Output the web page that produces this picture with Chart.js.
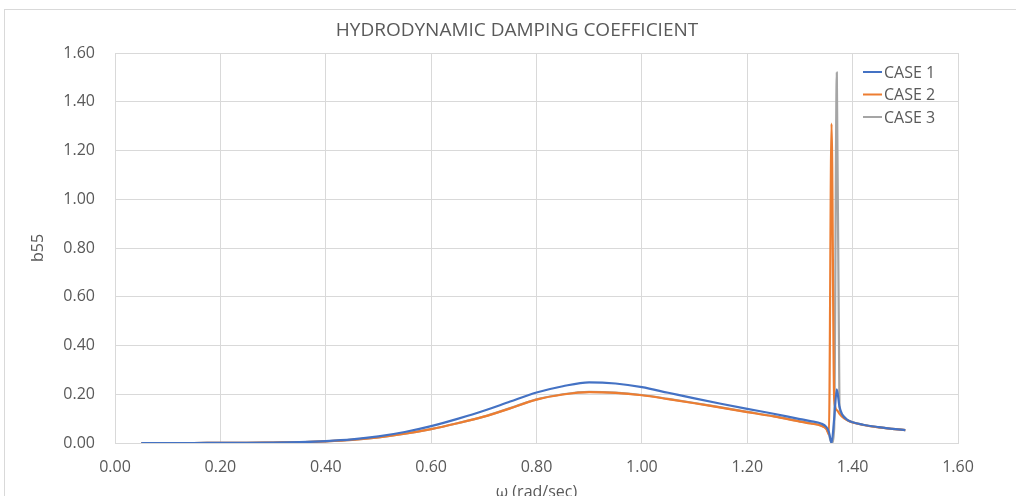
<!DOCTYPE html>
<html>
<head>
<meta charset="utf-8">
<title>Hydrodynamic Damping Coefficient</title>
<script src="https://cdn.jsdelivr.net/npm/chart.js@4/dist/chart.umd.min.js"></script>
<style>
  html, body { margin: 0; padding: 0; background: #ffffff; }
  canvas { display: block; }
</style>
</head>
<body>
<canvas id="chart" width="1016" height="496"></canvas>
<script>
// Wave frequency (rad/sec) at which b55 was evaluated
const omega = [
  0.05, 0.10, 0.15, 0.20, 0.25, 0.30, 0.35, 0.40, 0.45, 0.50,
  0.55, 0.60, 0.65, 0.70, 0.75, 0.80, 0.85, 0.90, 0.95, 1.00,
  1.05, 1.10, 1.15, 1.20, 1.25, 1.30, 1.32, 1.34, 1.35, 1.355,
  1.36, 1.365, 1.37, 1.375, 1.38, 1.39, 1.40, 1.42, 1.45, 1.475, 1.50
];

// Pitch damping coefficient b55 for each case
const case1 = [
  0.000, 0.000, 0.000, 0.001, 0.001, 0.002, 0.004, 0.008, 0.015, 0.027,
  0.045, 0.069, 0.099, 0.132, 0.170, 0.207, 0.233, 0.249, 0.244, 0.229,
  0.206, 0.183, 0.161, 0.140, 0.120, 0.098, 0.090, 0.080, 0.066, 0.045,
  0.000, 0.100, 0.220, 0.150, 0.118, 0.095, 0.085, 0.075, 0.065, 0.058, 0.053
];
const case2 = [
  0.000, 0.000, 0.000, 0.001, 0.001, 0.002, 0.003, 0.007, 0.013, 0.023,
  0.038, 0.057, 0.081, 0.108, 0.142, 0.178, 0.199, 0.209, 0.206, 0.196,
  0.180, 0.163, 0.145, 0.127, 0.109, 0.088, 0.080, 0.071, 0.058, 0.035,
  1.310, 0.180, 0.135, 0.120, 0.108, 0.093, 0.084, 0.074, 0.064, 0.058, 0.053
];
const case3 = [
  0.000, 0.000, 0.000, 0.001, 0.001, 0.002, 0.003, 0.007, 0.013, 0.023,
  0.038, 0.057, 0.081, 0.108, 0.143, 0.179, 0.200, 0.210, 0.207, 0.197,
  0.181, 0.164, 0.146, 0.128, 0.110, 0.089, 0.081, 0.072, 0.059, 0.036,
  0.000, 0.060, 1.520, 0.150, 0.115, 0.094, 0.085, 0.075, 0.064, 0.058, 0.053
];

const seriesNames = ['CASE 1', 'CASE 2', 'CASE 3'];
const seriesColors = ['#4472C4', '#ED7D31', '#A5A5A5'];
const axisTicks = [0, 0.2, 0.4, 0.6, 0.8, 1.0, 1.2, 1.4, 1.6];

const chartTitle = 'HYDRODYNAMIC DAMPING COEFFICIENT';
const xTitle = 'ω (rad/sec)';
const yTitle = 'b55';

const FONT = '"Open Sans", "DejaVu Sans", sans-serif';
const TEXT = '#595959';
const GRID = '#D9D9D9';

const toPoints = vals => omega.map((w, i) => ({ x: w, y: vals[i] }));

const datasets = [case1, case2, case3].map((vals, i) => ({
  label: seriesNames[i],
  data: toPoints(vals),
  borderColor: seriesColors[i],
  backgroundColor: seriesColors[i],
  borderWidth: 2.2,
  pointRadius: 0,
  fill: false,
  cubicInterpolationMode: 'monotone'
}));

// Frame, title, axis titles and legend drawn straight onto the canvas
const decorations = {
  id: 'decorations',
  beforeDraw(chart) {
    const ctx = chart.ctx;
    ctx.save();
    ctx.fillStyle = '#ffffff';
    ctx.fillRect(0, 0, chart.width, chart.height);
    ctx.strokeStyle = GRID;
    ctx.lineWidth = 1;
    ctx.strokeRect(4.5, 9.5, chart.width + 20, chart.height + 20);
    ctx.restore();
  },
  afterDraw(chart) {
    const ctx = chart.ctx;
    const area = chart.chartArea;
    ctx.save();
    ctx.fillStyle = TEXT;

    ctx.font = '19px ' + FONT;
    ctx.textAlign = 'center';
    ctx.textBaseline = 'middle';
    ctx.fillText(chartTitle, 517, 31);

    ctx.font = '16px ' + FONT;
    ctx.textBaseline = 'alphabetic';
    ctx.fillText(xTitle, (area.left + area.right) / 2, 497);

    ctx.save();
    ctx.translate(38, (area.top + area.bottom) / 2);
    ctx.rotate(-Math.PI / 2);
    ctx.textBaseline = 'middle';
    ctx.fillText(yTitle, 0, 0);
    ctx.restore();

    ctx.textAlign = 'left';
    ctx.textBaseline = 'middle';
    ctx.font = '16px ' + FONT;
    chart.data.datasets.forEach((ds, i) => {
      const y = 72 + i * 22.5;
      ctx.strokeStyle = ds.borderColor;
      ctx.lineWidth = 2;
      ctx.beginPath();
      ctx.moveTo(863, y);
      ctx.lineTo(882, y);
      ctx.stroke();
      ctx.fillStyle = TEXT;
      ctx.fillText(ds.label, 884, y + 1);
    });
    ctx.restore();
  }
};

const tickFormat = v => Number(v).toFixed(2);

new Chart(document.getElementById('chart'), {
  type: 'line',
  data: { datasets },
  options: {
    responsive: false,
    animation: false,
    devicePixelRatio: 1,
    layout: { padding: { left: 0, right: 58, top: 53, bottom: 0 } },
    plugins: {
      legend: { display: false },
      title: { display: false },
      tooltip: { enabled: false }
    },
    scales: {
      x: {
        type: 'linear',
        min: axisTicks[0],
        max: axisTicks[axisTicks.length - 1],
        afterBuildTicks: s => { s.ticks = axisTicks.map(v => ({ value: v })); },
        afterFit: s => { s.height = 53; },
        ticks: {
          color: TEXT,
          font: { family: FONT, size: 16 },
          padding: 15,
          maxRotation: 0,
          callback: tickFormat
        },
        grid: { color: GRID, drawTicks: false, lineWidth: 1 },
        border: { color: GRID }
      },
      y: {
        type: 'linear',
        min: axisTicks[0],
        max: axisTicks[axisTicks.length - 1],
        afterBuildTicks: s => { s.ticks = axisTicks.map(v => ({ value: v })); },
        afterFit: s => { s.width = 115; },
        ticks: {
          color: TEXT,
          font: { family: FONT, size: 16 },
          padding: 20,
          callback: tickFormat
        },
        grid: { color: GRID, drawTicks: false, lineWidth: 1 },
        border: { color: GRID }
      }
    }
  },
  plugins: [decorations]
});
</script>
</body>
</html>
